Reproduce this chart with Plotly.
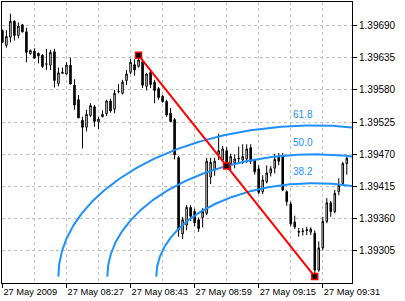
import math
import plotly.graph_objects as go

# ---- data (EURUSD-like M1 bars, 27 May 2009 08:11 .. 09:37) ----
open_ = [1.39681, 1.39656, 1.39670, 1.39697, 1.39673, 1.39691, 1.39679, 1.39642, 1.39646, 1.39642,
         1.39639, 1.39624, 1.39622, 1.39645, 1.39591, 1.39608, 1.39607, 1.39622, 1.39588, 1.39563,
         1.39528, 1.39516, 1.39536, 1.39551, 1.39525, 1.39534, 1.39539, 1.39561, 1.39547, 1.39577,
         1.39574, 1.39596, 1.39610, 1.39623, 1.39620, 1.39628, 1.39586, 1.39610, 1.39593, 1.39582,
         1.39569, 1.39560, 1.39540, 1.39529, 1.39464, 1.39334, 1.39349, 1.39379, 1.39372, 1.39358,
         1.39362, 1.39369, 1.39431, 1.39443, 1.39470, 1.39460, 1.39476, 1.39454, 1.39455, 1.39462,
         1.39460, 1.39462, 1.39481, 1.39460, 1.39445, 1.39406, 1.39423, 1.39438, 1.39446, 1.39465,
         1.39468, 1.39406, 1.39385, 1.39354, 1.39338, 1.39339, 1.39341, 1.39337, 1.39335, 1.39272,
         1.39310, 1.39355, 1.39387, 1.39372, 1.39406, 1.39420, 1.39454]
high = [1.39683, 1.39682, 1.39710, 1.39699, 1.39695, 1.39692, 1.39686, 1.39649, 1.39651, 1.39644,
        1.39641, 1.39650, 1.39648, 1.39650, 1.39618, 1.39618, 1.39627, 1.39635, 1.39598, 1.39571,
        1.39534, 1.39546, 1.39557, 1.39554, 1.39534, 1.39545, 1.39563, 1.39565, 1.39580, 1.39590,
        1.39597, 1.39614, 1.39633, 1.39632, 1.39639, 1.39630, 1.39609, 1.39614, 1.39597, 1.39585,
        1.39571, 1.39563, 1.39549, 1.39532, 1.39467, 1.39363, 1.39383, 1.39383, 1.39377, 1.39362,
        1.39378, 1.39464, 1.39464, 1.39464, 1.39505, 1.39484, 1.39482, 1.39471, 1.39470, 1.39483,
        1.39487, 1.39487, 1.39487, 1.39462, 1.39451, 1.39434, 1.39451, 1.39450, 1.39471, 1.39472,
        1.39472, 1.39408, 1.39389, 1.39365, 1.39344, 1.39344, 1.39346, 1.39345, 1.39340, 1.39321,
        1.39363, 1.39395, 1.39390, 1.39409, 1.39429, 1.39457, 1.39466]
low = [1.39660, 1.39652, 1.39661, 1.39664, 1.39668, 1.39678, 1.39627, 1.39640, 1.39634, 1.39625,
       1.39617, 1.39614, 1.39614, 1.39584, 1.39586, 1.39607, 1.39606, 1.39589, 1.39546, 1.39532,
       1.39480, 1.39509, 1.39534, 1.39517, 1.39513, 1.39533, 1.39535, 1.39541, 1.39540, 1.39574,
       1.39572, 1.39588, 1.39607, 1.39604, 1.39618, 1.39583, 1.39579, 1.39583, 1.39557, 1.39563,
       1.39558, 1.39534, 1.39525, 1.39461, 1.39329, 1.39325, 1.39340, 1.39356, 1.39347, 1.39337,
       1.39345, 1.39366, 1.39419, 1.39433, 1.39460, 1.39457, 1.39449, 1.39443, 1.39446, 1.39454,
       1.39453, 1.39455, 1.39453, 1.39435, 1.39402, 1.39402, 1.39420, 1.39432, 1.39437, 1.39451,
       1.39407, 1.39382, 1.39347, 1.39342, 1.39329, 1.39331, 1.39332, 1.39332, 1.39261, 1.39269,
       1.39306, 1.39352, 1.39363, 1.39369, 1.39400, 1.39417, 1.39435]
close = [1.39661, 1.39671, 1.39697, 1.39673, 1.39689, 1.39679, 1.39644, 1.39647, 1.39634, 1.39638,
         1.39620, 1.39624, 1.39644, 1.39596, 1.39609, 1.39610, 1.39622, 1.39590, 1.39554, 1.39532,
         1.39516, 1.39538, 1.39553, 1.39526, 1.39530, 1.39538, 1.39561, 1.39544, 1.39574, 1.39577,
         1.39593, 1.39607, 1.39627, 1.39614, 1.39631, 1.39588, 1.39607, 1.39589, 1.39579, 1.39567,
         1.39560, 1.39537, 1.39526, 1.39469, 1.39341, 1.39358, 1.39379, 1.39364, 1.39353, 1.39343,
         1.39372, 1.39458, 1.39456, 1.39458, 1.39476, 1.39479, 1.39454, 1.39466, 1.39462, 1.39463,
         1.39466, 1.39479, 1.39458, 1.39440, 1.39405, 1.39426, 1.39438, 1.39445, 1.39461, 1.39458,
         1.39409, 1.39389, 1.39351, 1.39346, 1.39337, 1.39338, 1.39340, 1.39342, 1.39272, 1.39310,
         1.39355, 1.39387, 1.39372, 1.39403, 1.39417, 1.39454, 1.39463]

tick_bars = [0, 16, 32, 48, 64, 80]
tick_labels = ["27 May 2009", "27 May 08:27", "27 May 08:43",
               "27 May 08:59", "27 May 09:15", "27 May 09:31"]
minor_bars = [8, 24, 40, 56, 72]
price_ticks = [1.39305, 1.39360, 1.39415, 1.39470, 1.39525, 1.39580, 1.39635, 1.39690]

trend_start_bar = 34   # anchored at that bar's high
trend_end_bar = 78     # anchored at that bar's low
fib_levels = [0.382, 0.5, 0.618]
fib_labels = ["38.2", "50.0", "61.8"]
arc_price_per_bar = 4.03e-5  # chart scale used for the circular arcs

bars = list(range(len(open_)))

FONT = "Tahoma, 'Liberation Sans', Arial, sans-serif"
BLUE = "#1E90FF"

fig = go.Figure()
fig.add_trace(go.Candlestick(
    x=bars, open=open_, high=high, low=low, close=close,
    increasing=dict(line=dict(color="black", width=1), fillcolor="white"),
    decreasing=dict(line=dict(color="black", width=1), fillcolor="black"),
    whiskerwidth=0, showlegend=False, hoverinfo="skip"))

# Fibonacci arcs centred on the trend line end point
x0, y0 = trend_start_bar, high[trend_start_bar]
x1, y1 = trend_end_bar, low[trend_end_bar]
dist = math.hypot(x1 - x0, (y1 - y0) / arc_price_per_bar)
for lev, lab in zip(fib_levels, fib_labels):
    r = lev * dist
    xs, ys = [], []
    for i in range(0, 361):
        th = math.pi * i / 360
        xs.append(x1 - r * math.cos(th))
        ys.append(y1 + r * arc_price_per_bar * math.sin(th))
    fig.add_trace(go.Scatter(x=xs, y=ys, mode="lines",
                             line=dict(color=BLUE, width=2),
                             showlegend=False, hoverinfo="skip"))
    fig.add_annotation(x=x1, y=y1 + r * arc_price_per_bar, text=lab,
                       showarrow=False, xanchor="right", yanchor="bottom",
                       yshift=4, font=dict(family=FONT, size=10, color=BLUE))

# trend line with its three anchor squares
fig.add_trace(go.Scatter(x=[x0, x1], y=[y0, y1], mode="lines",
                         line=dict(color="#FF0000", width=2),
                         showlegend=False, hoverinfo="skip"))
fig.add_trace(go.Scatter(x=[x0, (x0 + x1) / 2, x1], y=[y0, (y0 + y1) / 2, y1],
                         mode="markers",
                         marker=dict(symbol="square", size=6, color="black",
                                     line=dict(color="#FF0000", width=1.5)),
                         showlegend=False, hoverinfo="skip"))

grid = dict(gridcolor="#c0c0c0", griddash="3px,3px", gridwidth=1)
fig.update_layout(
    width=405, height=301,
    margin=dict(l=2, r=53, t=2, b=18),
    paper_bgcolor="white", plot_bgcolor="white",
    boxgap=0.45,
    font=dict(family=FONT, size=10, color="black"),
    xaxis=dict(range=[-0.1, 87.3], tickmode="array", tickvals=tick_bars,
               ticktext=tick_labels, ticks="outside", ticklen=4, tickcolor="black",
               ticklabelposition="outside right", tickangle=0,
               tickfont=dict(family=FONT, size=9.3, color="black"),
               showline=True, mirror=True, linecolor="black", linewidth=1,
               showgrid=True, zeroline=False, rangeslider=dict(visible=False),
               minor=dict(tickvals=minor_bars, showgrid=True, ticks="", **grid),
               **grid),
    yaxis=dict(range=[1.39250, 1.39730], side="right", tickmode="array",
               tickvals=price_ticks, tickformat=".5f", ticks="outside",
               ticklen=4, tickcolor="black",
               showline=True, mirror=True, linecolor="black", linewidth=1,
               showgrid=True, zeroline=False, **grid),
)

fig.write_html("out.html")
